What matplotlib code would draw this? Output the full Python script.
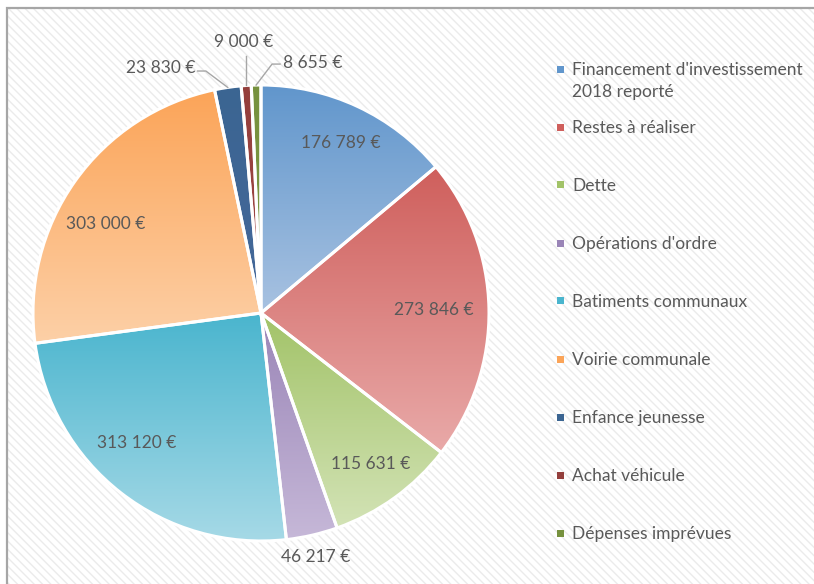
import numpy as np
import matplotlib.pyplot as plt
from matplotlib.colors import to_rgb
from matplotlib.patches import Rectangle

labels = ["Financement d'investissement\n2018 reporté", "Restes à réaliser", "Dette",
          "Opérations d'ordre", "Batiments communaux", "Voirie communale",
          "Enfance jeunesse", "Achat véhicule", "Dépenses imprévues"]
values = [176789, 273846, 115631, 46217, 313120, 303000, 23830, 9000, 8655]
value_texts = ["176 789 €", "273 846 €", "115 631 €", "46 217 €", "313 120 €",
               "303 000 €", "23 830 €", "9 000 €", "8 655 €"]

# gradient colours (top, bottom) per slice
top_colors = ["#6196cc", "#cf5f5c", "#a2c368", "#9a85b7", "#4ab5ce", "#fba458",
              "#3b6592", "#943f3c", "#76913e"]
bottom_colors = ["#a8c2e1", "#e9aaa9", "#d3e3b6", "#c6b8d8", "#a8dae7", "#fdd0a7",
                 "#45689a", "#a04745", "#7f9946"]

text_color = "#595959"
font = "Lato"
fsize = 12.5

W, H = 814, 584
fig = plt.figure(figsize=(W / 100, H / 100), dpi=100)
fig.patch.set_facecolor("white")

# hatched chart background + border
plt.rcParams["hatch.linewidth"] = 1.0
bg = Rectangle((7 / W, 0), 1, 1 - 8 / H, transform=fig.transFigure,
               facecolor="white", edgecolor="#ebebeb", hatch="\\\\\\\\", lw=0, zorder=-2)
fig.patches.append(bg)
border = Rectangle((7 / W, -0.01), 1, 1 - 8 / H + 0.01, transform=fig.transFigure,
                   facecolor="none", edgecolor="#a6a6a6", lw=1.6, zorder=-1)
fig.patches.append(border)

cx, cy, R = 261, 313, 228
ax = fig.add_axes([(cx - R) / W, (H - cy - R) / H, 2 * R / W, 2 * R / H])
ax.set_xlim(-1, 1)
ax.set_ylim(-1, 1)
ax.axis("off")

wedges, _ = ax.pie(values, startangle=90, counterclock=False, radius=1,
                   wedgeprops=dict(facecolor="none", edgecolor="white", linewidth=2.2))
for w in wedges:
    w.set_zorder(3)

grad = np.linspace(0, 1, 256).reshape(-1, 1)
for w, c1, c2 in zip(wedges, top_colors, bottom_colors):
    a = np.array(to_rgb(c1))
    b = np.array(to_rgb(c2))
    img = a[None, None, :] * (1 - grad[:, :, None]) + b[None, None, :] * grad[:, :, None]
    verts = w.get_path().vertices
    x0, x1 = verts[:, 0].min(), verts[:, 0].max()
    y0, y1 = verts[:, 1].min(), verts[:, 1].max()
    im = ax.imshow(img, extent=[x0, x1, y0, y1], origin="upper", aspect="auto",
                   zorder=2, interpolation="bilinear")
    im.set_clip_path(w)
ax.set_xlim(-1, 1)
ax.set_ylim(-1, 1)

# data labels (big slices): distance from centre, angle clockwise from top
total = sum(values)
angles = []
acc = 0
for v in values:
    angles.append((acc + v / 2) / total * 2 * np.pi)
    acc += v

label_place = [(0.824, 25.2), (0.759, 89.0), (0.819, 143.9), (1.097, 167.3),
               (0.788, 223.6), (0.784, 299.9)]
for i, (d, deg) in enumerate(label_place):
    t = np.radians(deg)
    ax.text(d * np.sin(t), d * np.cos(t), value_texts[i],
            ha="center", va="center", fontsize=fsize, color=text_color,
            family=font, zorder=5, clip_on=False)

# small slices with leader lines (points relative to slice edge, axes units)
leaders = {6: [(-0.096, 0.072), (-0.132, 0.072)],
           7: [(0.0, 0.13)],
           8: [(0.07, 0.092), (0.105, 0.092)]}
text_pos = {6: ((-0.14, 0.086), "right"), 7: ((-0.013, 0.19), "center"),
            8: ((0.118, 0.097), "left")}
for i, pts in leaders.items():
    t = angles[i]
    ex, ey = np.sin(t), np.cos(t)
    xs = [ex] + [ex + p[0] for p in pts]
    ys = [ey] + [ey + p[1] for p in pts]
    ax.plot(xs, ys, color="#a6a6a6", lw=1, zorder=4, clip_on=False)
    (dx, dy), ha = text_pos[i]
    ax.text(ex + dx, ey + dy, value_texts[i], ha=ha, va="center", fontsize=fsize,
            color=text_color, family=font, zorder=5, clip_on=False)

# legend
for i, (lab, c1) in enumerate(zip(labels, top_colors)):
    ypix = 69 + i * 58
    fig.patches.append(Rectangle((557 / W, 1 - (ypix + 3.5) / H), 7 / W, 7 / H,
                                 transform=fig.transFigure, facecolor=c1,
                                 edgecolor="none"))
    fig.text(572 / W, 1 - (ypix - 7) / H, lab, ha="left", va="top", fontsize=fsize,
             color=text_color, family=font, linespacing=1.5)

fig.savefig("out.png", dpi=100)
